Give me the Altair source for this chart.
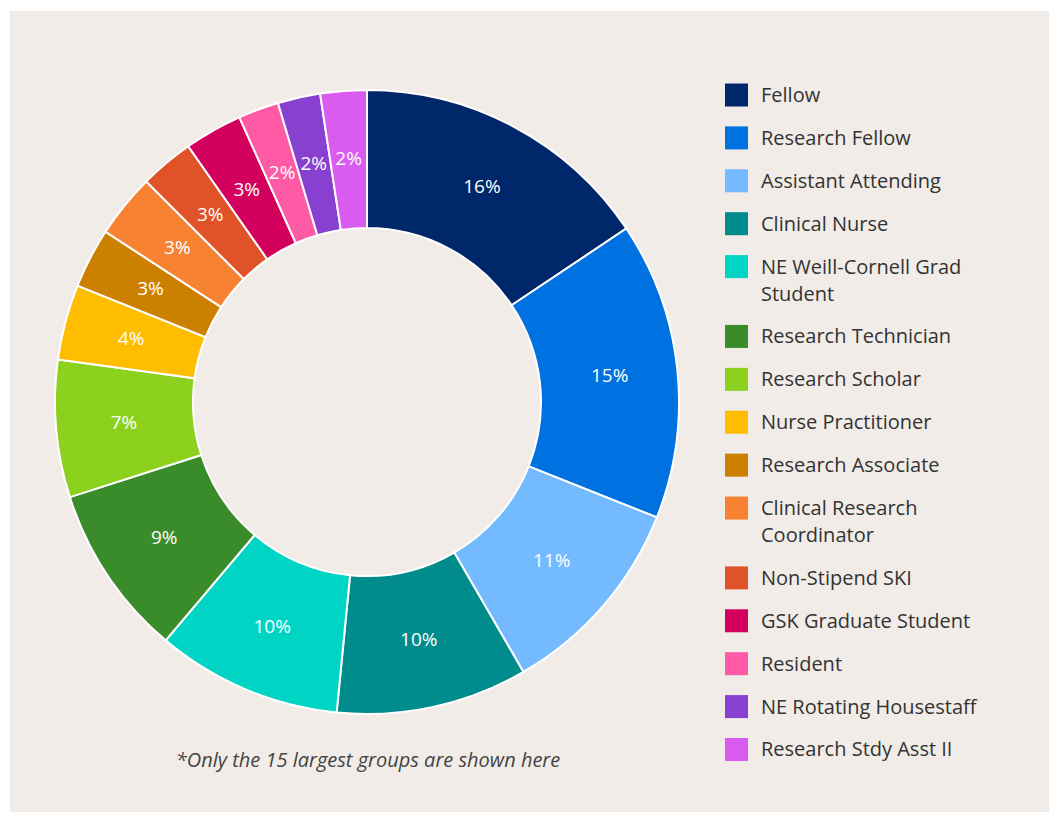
import altair as alt
import pandas as pd

CATEGORIES = [
    "Fellow", "Research Fellow", "Assistant Attending", "Clinical Nurse",
    "NE Weill-Cornell Grad Student", "Research Technician", "Research Scholar",
    "Nurse Practitioner", "Research Associate", "Clinical Research Coordinator",
    "Non-Stipend SKI", "GSK Graduate Student", "Resident",
    "NE Rotating Housestaff", "Research Stdy Asst II",
]
LEGEND_LABELS = [
    "Fellow", "Research Fellow", "Assistant Attending", "Clinical Nurse",
    "NE Weill-Cornell Grad\nStudent", "Research Technician", "Research Scholar",
    "Nurse Practitioner", "Research Associate", "Clinical Research\nCoordinator",
    "Non-Stipend SKI", "GSK Graduate Student", "Resident",
    "NE Rotating Housestaff", "Research Stdy Asst II",
]
SHARES = [15.6, 15.4, 10.6, 9.9, 9.6, 8.9, 7.1, 3.9, 3.1, 3.3, 2.8, 3.0, 2.1, 2.2, 2.4]
COLORS = [
    "#00276A", "#0071E1", "#74BAFF", "#008C8C", "#00D5C5", "#3A8C2A",
    "#8BD11E", "#FFBD00", "#CC8000", "#F78232", "#E05328", "#D4005E",
    "#FF5AA5", "#8740CF", "#D95BF0",
]
FOOTNOTE = ["*Only the 15 largest groups are shown here"]

FONT = "Open Sans"
BG = "#F1ECE7"
TEXT = "#333333"

# extra wrapped lines above each legend entry (derived from the label text)
extra_before = []
acc = 0
for lab in LEGEND_LABELS:
    extra_before.append(acc)
    acc += lab.count("\n")

df = pd.DataFrame({
    "idx": list(range(len(CATEGORIES))),
    "category": CATEGORIES,
    "legendtext": LEGEND_LABELS,
    "share": SHARES,
    "extra_before": extra_before,
})

color = alt.Color("category:N", scale=alt.Scale(domain=CATEGORIES, range=COLORS), legend=None)
cx, cy = alt.value(357), alt.value(391)

base = alt.Chart(df)

arcs = base.mark_arc(outerRadius=312, innerRadius=174, stroke="white", strokeWidth=2).encode(
    theta=alt.Theta("share:Q", stack=True),
    order=alt.Order("idx:Q"),
    color=color,
    x=cx, y=cy,
)

labels = base.transform_calculate(
    label="format(datum.share, '.0f') + '%'"
).mark_text(radius=244, color="white", fontSize=19, font=FONT, fontWeight=500).encode(
    theta=alt.Theta("share:Q", stack=True),
    order=alt.Order("idx:Q"),
    text="label:N",
    x=cx, y=cy,
)

leg = base.transform_calculate(pos="datum.idx + datum.extra_before * 0.628")

yscale = alt.Scale(domain=[0, 1], range=[84, 126.9], zero=False, nice=False)

leg_sq = leg.mark_square(size=529, opacity=1).encode(
    x=alt.value(726.5),
    y=alt.Y("pos:Q", scale=yscale, axis=None),
    color=color,
)

leg_txt = leg.mark_text(
    align="left", baseline="alphabetic", dy=7, fontSize=20, lineHeight=27,
    lineBreak="\n", color=TEXT, font=FONT,
).encode(
    x=alt.value(751),
    y=alt.Y("pos:Q", scale=yscale, axis=None),
    text="legendtext:N",
)

note = alt.Chart(pd.DataFrame({"note": FOOTNOTE})).mark_text(
    fontStyle="italic", fontSize=20, color="#444444", font=FONT,
).encode(
    x=alt.value(358), y=alt.value(750), text="note:N",
)

chart = alt.layer(arcs, labels, leg_sq, leg_txt, note).properties(
    width=1039, height=801,
    autosize=alt.AutoSizeParams(type="none"),
    padding={"left": 2, "top": 3, "right": 0, "bottom": 0},
    background="white",
).configure_view(stroke=None, fill=BG)

chart.save("out.html", embed_options={"renderer": "svg", "actions": False})
